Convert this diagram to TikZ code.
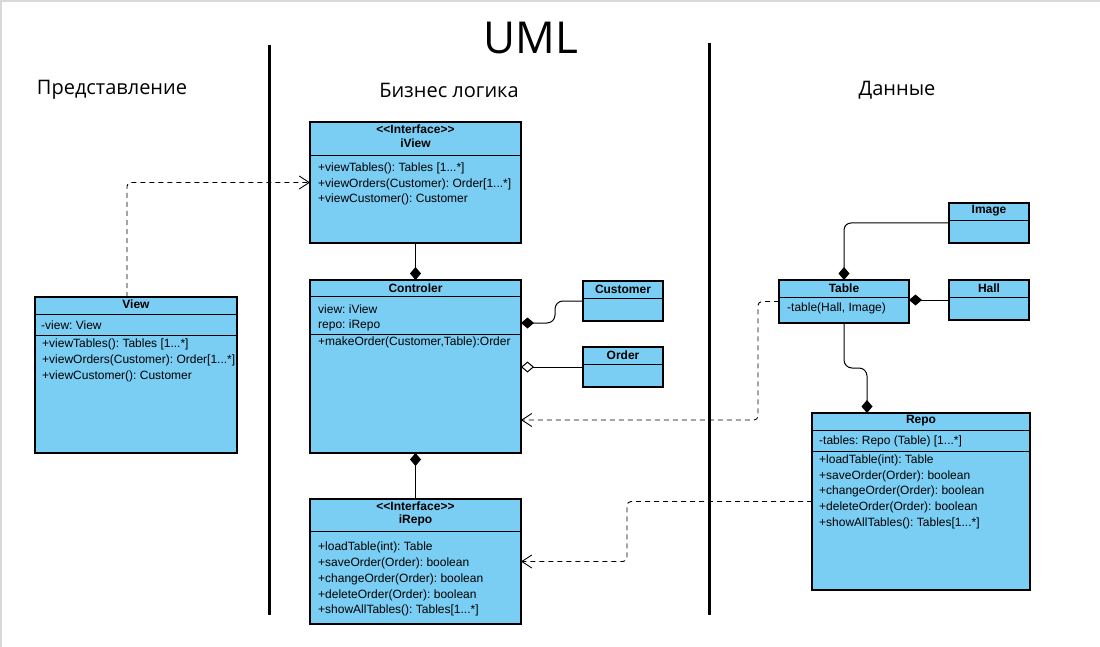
\documentclass[tikz,border=0pt]{standalone}
\usepackage{fontspec}
\setmainfont{Liberation Sans}
\newfontfamily\headfont{Open Sans}
\usetikzlibrary{arrows.meta}
\definecolor{umlblue}{RGB}{122,206,244}
\newcommand{\stereo}[1]{<\kern0pt<#1>\kern0pt>}
\frenchspacing

\begin{document}
\begin{tikzpicture}[x=1pt,y=-1pt,
	every node/.style={font=\fontsize{12}{14}\selectfont},
	cls/.style={draw,fill=umlblue,line width=1.1pt,anchor=north west,inner sep=0,outer sep=0},
	txt/.style={anchor=west,inner sep=0},
	ttl/.style={inner sep=0,font=\fontsize{12}{14}\selectfont\bfseries},
	head/.style={inner sep=0,font=\headfont\fontsize{20}{24}\selectfont},
	dep/.style={line width=0.9pt,dash pattern=on 5pt off 4pt,rounded corners=4,-{Straight Barb[length=10pt,width=13pt]}},
	comp/.style={line width=1pt,rounded corners=7,-{Diamond[length=13pt,width=11pt]}},
	aggr/.style={line width=1pt,-{Diamond[open,fill=white,length=13pt,width=11pt]}}]
	\useasboundingbox (0,0) rectangle (1100,647);
	\draw[black!15,line width=1.5pt] (0.8,647) -- (0.8,0.8) -- (1100,0.8);
	% titles and layers
	\node[inner sep=0,font=\headfont\fontsize{44}{50}\selectfont] (uml) at (531,38) {UML};
	\node[head] (pres) at (112,90) {Представление};
	\node[head] (logic) at (449,90) {Бизнес логика};
	\node[head] (data) at (897,90) {Данные};
	\draw[line width=3pt] (269,45) -- (269,615);
	\draw[line width=3pt] (709,43) -- (709,615);
	% iView
	\node[cls,minimum width=211pt,minimum height=121pt] (iview) at (310,122) {};
	\node[ttl] at (415.5,129) {\stereo{Interface}};
	\node[ttl] at (415.5,143) {iView};
	\draw (310,155) -- (521,155);
	\node[txt] at (318,168) {+viewTables(): Tables [1...*]};
	\node[txt] at (318,184) {+viewOrders(Customer): Order[1...*]};
	\node[txt] at (318,199) {+viewCustomer(): Customer};
	% Controler
	\node[cls,minimum width=211pt,minimum height=173pt] (ctrl) at (310,280) {};
	\node[ttl] at (415.5,288) {Controler};
	\draw (310,296) -- (521,296);
	\node[txt] at (318,309) {view: iView};
	\node[txt] at (318,325) {repo: iRepo};
	\draw (310,334) -- (521,334);
	\node[txt] at (318,342) {+makeOrder(Customer,Table):Order};
	% iRepo
	\node[cls,minimum width=211pt,minimum height=125pt] (irepo) at (310,499) {};
	\node[ttl] at (415.5,506) {\stereo{Interface}};
	\node[ttl] at (415.5,520) {iRepo};
	\draw (310,531) -- (521,531);
	\node[txt] at (318,547) {+loadTable(int): Table};
	\node[txt] at (318,563) {+saveOrder(Order): boolean};
	\node[txt] at (318,579) {+changeOrder(Order): boolean};
	\node[txt] at (318,595) {+deleteOrder(Order): boolean};
	\node[txt] at (318,610) {+showAllTables(): Tables[1...*]};
	% View
	\node[cls,minimum width=202pt,minimum height=156pt] (view) at (35,297) {};
	\node[ttl] at (136,304) {View};
	\draw (35,314) -- (237,314);
	\node[txt] at (41,325) {-view: View};
	\draw (35,335) -- (237,335);
	\node[txt] at (42,344) {+viewTables(): Tables [1...*]};
	\node[txt] at (42,360) {+viewOrders(Customer): Order[1...*]};
	\node[txt] at (42,376) {+viewCustomer(): Customer};
	% Customer, Order
	\node[cls,minimum width=80pt,minimum height=40pt] (customer) at (583,281) {};
	\node[ttl] at (623,289) {Customer};
	\draw (583,298) -- (663,298);
	\node[cls,minimum width=80pt,minimum height=40pt] (order) at (583,347) {};
	\node[ttl] at (623,355) {Order};
	\draw (583,364) -- (663,364);
	% Image, Table, Hall
	\node[cls,minimum width=80pt,minimum height=40pt] (image) at (949,203) {};
	\node[ttl] at (989,211) {Image};
	\draw (949,220) -- (1029,220);
	\node[cls,minimum width=130pt,minimum height=43pt] (table) at (779,280) {};
	\node[ttl] at (844,288) {Table};
	\draw (779,297) -- (909,297);
	\node[txt] at (787,308) {-table(Hall, Image)};
	\node[cls,minimum width=80pt,minimum height=40pt] (hall) at (949,280) {};
	\node[ttl] at (989,288) {Hall};
	\draw (949,297) -- (1029,297);
	% Repo
	\node[cls,minimum width=218pt,minimum height=177pt] (repo) at (812,413) {};
	\node[ttl] at (921,421) {Repo};
	\draw (812,430) -- (1030,430);
	\node[txt] at (819,441) {-tables: Repo (Table) [1...*]};
	\draw (812,451) -- (1030,451);
	\node[txt] at (819,460) {+loadTable(int): Table};
	\node[txt] at (819,476) {+saveOrder(Order): boolean};
	\node[txt] at (819,491) {+changeOrder(Order): boolean};
	\node[txt] at (819,507) {+deleteOrder(Order): boolean};
	\node[txt] at (819,523) {+showAllTables(): Tables[1...*]};
	% connectors
	\draw[dep] ([xshift=-9pt]view.north) |- (iview.west);
	\draw[comp] (iview.south) -- (ctrl.north);
	\draw[comp] (irepo.north) -- (ctrl.south);
	\draw[comp,rounded corners=8] (customer.west) -- ++(-28,0) |- ([yshift=43.5pt]ctrl.east);
	\draw[aggr] (order.west) -- (ctrl.east |- order.west);
	\draw[dep] (table.west) -- ++(-21,0) |- ([yshift=-53.5pt]ctrl.east);
	\draw[dep] (repo.west) -- ++(-185,0) |- (irepo.east);
	\draw[comp] (image.west) -| (table.north);
	\draw[comp] (hall.west) -- (table.east |- hall.west);
	\draw[comp,rounded corners=8] (table.south) -- ++(0,45) -| ([xshift=-54pt]repo.north);
\end{tikzpicture}
\end{document}
